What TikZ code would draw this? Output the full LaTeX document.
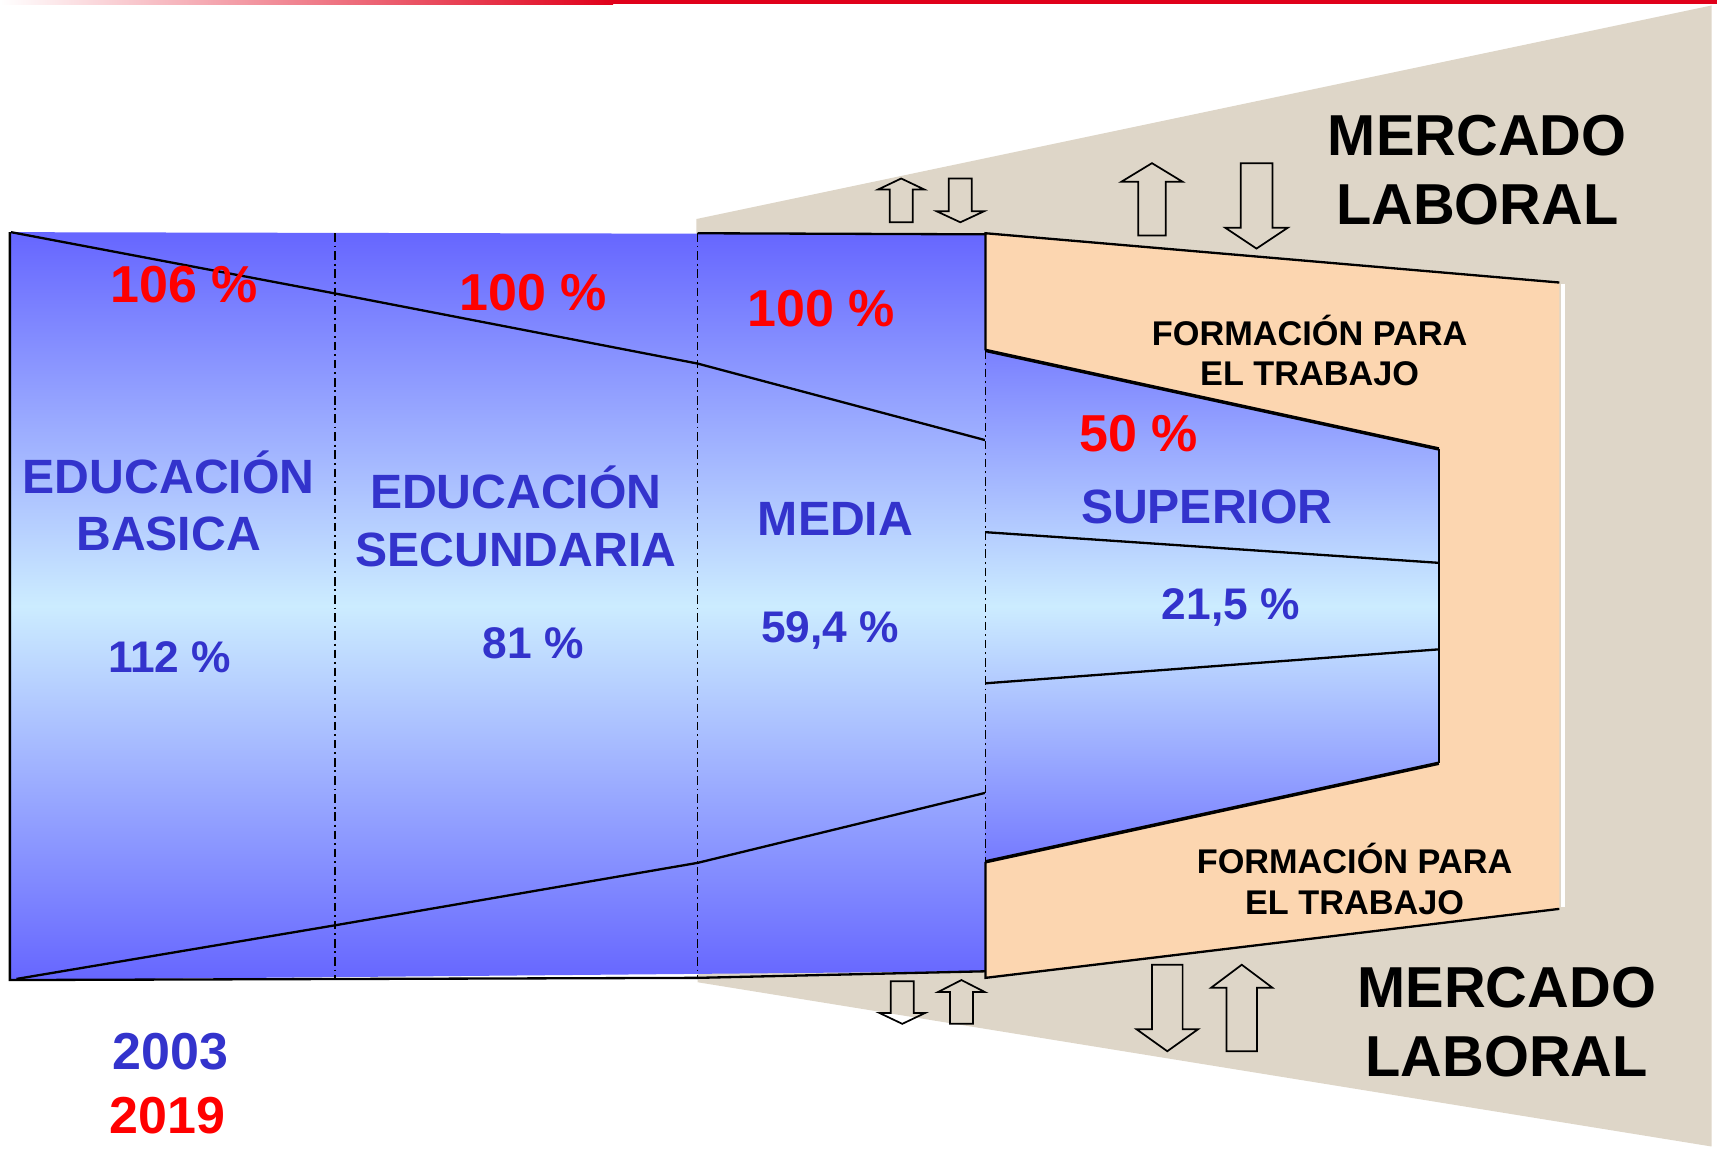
\documentclass[tikz,border=0pt]{standalone}
\usepackage{fontspec}
\setmainfont{Liberation Sans}

\definecolor{funnelblue}{RGB}{102,102,255}
\definecolor{funnellight}{RGB}{204,236,255}
\definecolor{labelblue}{RGB}{51,51,204}
\definecolor{labelred}{RGB}{255,0,0}
\definecolor{trainorange}{RGB}{252,214,176}
\definecolor{marketbeige}{RGB}{222,214,200}
\definecolor{barred}{RGB}{224,0,26}

\begin{document}
\begin{tikzpicture}[
x=0.01cm, y=-0.01cm,
levelname/.style={text=labelblue, font=\fontsize{12.5}{15}\selectfont\bfseries, align=center, inner sep=0pt, anchor=base},
levelrate/.style={text=labelblue, font=\fontsize{11.5}{14}\selectfont\bfseries, inner sep=0pt, anchor=base},
newrate/.style={text=labelred, font=\fontsize{13.5}{16}\selectfont\bfseries, inner sep=0pt, anchor=base},
yearlabel/.style={newrate, text=labelblue},
trainname/.style={font=\fontsize{8.9}{10.5}\selectfont\bfseries, align=center, inner sep=0pt, anchor=base},
marketname/.style={font=\fontsize{15}{18}\selectfont\bfseries, align=center, inner sep=0pt, anchor=base},
funnelline/.style={draw=black, line width=0.6pt},
edgeline/.style={draw=black, line width=0.9pt},
levelsep/.style={draw=black, line width=0.5pt, dash pattern=on 2.2pt off 1pt on 0.5pt off 1pt},
arrowline/.style={draw=black, line width=0.45pt, line join=miter},
pics/blockarrow/.style n args={4}{code={
  \draw[arrowline] (-#2,0) -- (-#2,-#1+#4) -- (-#3,-#1+#4) -- (0,-#1) -- (#3,-#1+#4) -- (#2,-#1+#4) -- (#2,0) -- cycle;
}},
]
\useasboundingbox (0,0) rectangle (1568,1051);

% Labour market background and top bar
\fill[marketbeige] (636,200) -- (1563,5) -- (1563,1047) -- (637,897) -- cycle;
\shade[left color=white, right color=barred] (0,0) rectangle (560,4);
\fill[barred] (560,0) rectangle (1568,4);

% Basica, secundaria and media
\shade[top color=funnelblue, bottom color=funnelblue, middle color=funnellight] (9,212) -- (900,214) -- (900,887) -- (9,895) -- cycle;
\draw[funnelline] (9,212) -- (9,895) -- (637,893) -- (900,887);
\draw[funnelline] (637,213) -- (900,214);
\draw[funnelline] (10,212) -- (306,268) -- (637,332) -- (900,402);
\draw[funnelline] (15,894) -- (306,845) -- (637,788) -- (900,724);
\draw[levelsep] (306,213) -- (306,894);
\draw[levelsep] (637,213) -- (637,893);

% Formacion para el trabajo
\fill[trainorange] (900,213) -- (1424,258) -- (1424,830) -- (900,893) -- cycle;
\draw[funnelline] (900,320) -- (900,213) -- (1424,258);
\draw[funnelline] (1424,830) -- (900,893) -- (900,787);
\draw[white, line width=1pt] (1427,259) -- (1427,828);

% Superior
\shade[top color=funnelblue!80!funnellight, bottom color=funnelblue!85!funnellight, middle color=funnellight] (900,320) -- (1314,410) -- (1314,697) -- (900,787) -- cycle;
\draw[edgeline] (900,320) -- (1314,410);
\draw[funnelline] (1314,410) -- (1314,697);
\draw[edgeline] (1314,697) -- (900,787);
\draw[levelsep] (900,320) -- (900,787);
\draw[funnelline] (900,486) -- (1314,514);
\draw[funnelline] (900,624) -- (1314,593);

% Flows to and from the labour market
\pic at (823,203) {blockarrow={40}{10.5}{21}{10}};
\pic[rotate=180] at (877,163) {blockarrow={40}{10.5}{21.5}{10}};
\pic at (1052,215) {blockarrow={66}{12.5}{28}{17}};
\pic[rotate=180] at (1147.5,149) {blockarrow={78}{14.5}{28.5}{19}};
\pic[rotate=180] at (824,896) {blockarrow={39}{10.5}{21}{10}};
\pic at (878,935) {blockarrow={40}{10.5}{21.5}{11}};
\pic[rotate=180] at (1066,881) {blockarrow={79}{14}{28}{20}};
\pic at (1134,960) {blockarrow={79}{14}{28}{21}};

% Level names
\node[levelname] (basica)     at (154,503)  {EDUCACIÓN\\BASICA};
\node[levelname] (secundaria) at (471,517)  {EDUCACIÓN\\SECUNDARIA};
\node[levelname] (media)      at (763,489)  {MEDIA};
\node[levelname] (superior)   at (1102,478) {SUPERIOR};

% Rates 2003
\node[levelrate] (basica03)     at (155,614)  {112 \%};
\node[levelrate] (secundaria03) at (487,601)  {81 \%};
\node[levelrate] (media03)      at (758,587)  {59,4 \%};
\node[levelrate] (superior03)   at (1124,566) {21,5 \%};

% Rates 2019
\node[newrate] (basica19)     at (168,276)  {106 \%};
\node[newrate] (secundaria19) at (487,284)  {100 \%};
\node[newrate] (media19)      at (750,298)  {100 \%};
\node[newrate] (superior19)   at (1040,412) {50 \%};

% Training and market labels
\node[trainname]  (trainingtop)    at (1196,352) {FORMACIÓN PARA\\EL TRABAJO};
\node[trainname]  (trainingbottom) at (1237,835) {FORMACIÓN PARA\\EL TRABAJO};
\node[marketname] (markettop)      at (1349,205) {MERCADO\\LABORAL};
\node[marketname] (marketbottom)   at (1376,983) {MERCADO\\LABORAL};

% Legend
\node[yearlabel] (year03) at (156,977)  {2003};
\node[newrate]   (year19) at (153,1035) {2019};
\end{tikzpicture}
\end{document}
